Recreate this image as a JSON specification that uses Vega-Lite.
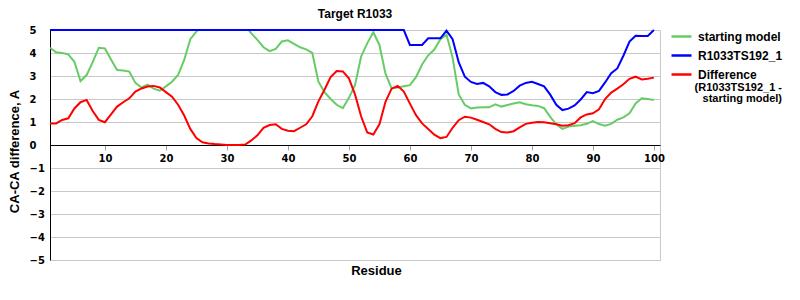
{
  "$schema": "https://vega.github.io/schema/vega-lite/v6.json",
  "width": 610,
  "height": 230,
  "autosize": {"type": "none"},
  "padding": {"left": 50, "top": 30, "right": 140, "bottom": 40},
  "background": "white",
  "title": {"text": "Target R1033", "font": "Liberation Sans", "fontSize": 12, "fontWeight": "bold", "color": "black", "offset": 4, "anchor": "middle"},
  "config": {"view": {"stroke": "#c8c8c8", "strokeWidth": 1}},
  "data": {"values": [
    {"residue":1,"starting model":4.23,"R1033TS192_1":5,"Difference":0.94},
    {"residue":2,"starting model":4.03,"R1033TS192_1":5,"Difference":0.94},
    {"residue":3,"starting model":4.0,"R1033TS192_1":5,"Difference":1.09},
    {"residue":4,"starting model":3.94,"R1033TS192_1":5,"Difference":1.16},
    {"residue":5,"starting model":3.62,"R1033TS192_1":5,"Difference":1.59},
    {"residue":6,"starting model":2.78,"R1033TS192_1":5,"Difference":1.86},
    {"residue":7,"starting model":3.04,"R1033TS192_1":5,"Difference":1.96},
    {"residue":8,"starting model":3.6,"R1033TS192_1":5,"Difference":1.48},
    {"residue":9,"starting model":4.23,"R1033TS192_1":5,"Difference":1.09},
    {"residue":10,"starting model":4.2,"R1033TS192_1":5,"Difference":0.99},
    {"residue":11,"starting model":3.72,"R1033TS192_1":5,"Difference":1.33},
    {"residue":12,"starting model":3.26,"R1033TS192_1":5,"Difference":1.67},
    {"residue":13,"starting model":3.24,"R1033TS192_1":5,"Difference":1.86},
    {"residue":14,"starting model":3.19,"R1033TS192_1":5,"Difference":2.03},
    {"residue":15,"starting model":2.7,"R1033TS192_1":5,"Difference":2.32},
    {"residue":16,"starting model":2.5,"R1033TS192_1":5,"Difference":2.46},
    {"residue":17,"starting model":2.62,"R1033TS192_1":5,"Difference":2.54},
    {"residue":18,"starting model":2.45,"R1033TS192_1":5,"Difference":2.57},
    {"residue":19,"starting model":2.36,"R1033TS192_1":5,"Difference":2.5},
    {"residue":20,"starting model":2.55,"R1033TS192_1":5,"Difference":2.3},
    {"residue":21,"starting model":2.75,"R1033TS192_1":5,"Difference":2.1},
    {"residue":22,"starting model":3.05,"R1033TS192_1":5,"Difference":1.75},
    {"residue":23,"starting model":3.7,"R1033TS192_1":5,"Difference":1.28},
    {"residue":24,"starting model":4.6,"R1033TS192_1":5,"Difference":0.7},
    {"residue":25,"starting model":4.93,"R1033TS192_1":5,"Difference":0.3},
    {"residue":26,"starting model":5.2,"R1033TS192_1":5,"Difference":0.12},
    {"residue":27,"starting model":5.5,"R1033TS192_1":5,"Difference":0.07},
    {"residue":28,"starting model":5.5,"R1033TS192_1":5,"Difference":0.04},
    {"residue":29,"starting model":5.5,"R1033TS192_1":5,"Difference":0.02},
    {"residue":30,"starting model":5.5,"R1033TS192_1":5,"Difference":0},
    {"residue":31,"starting model":5.5,"R1033TS192_1":5,"Difference":0},
    {"residue":32,"starting model":5.5,"R1033TS192_1":5,"Difference":0},
    {"residue":33,"starting model":5.2,"R1033TS192_1":5,"Difference":0.02},
    {"residue":34,"starting model":4.85,"R1033TS192_1":5,"Difference":0.2},
    {"residue":35,"starting model":4.57,"R1033TS192_1":5,"Difference":0.42},
    {"residue":36,"starting model":4.25,"R1033TS192_1":5,"Difference":0.75},
    {"residue":37,"starting model":4.08,"R1033TS192_1":5,"Difference":0.87},
    {"residue":38,"starting model":4.18,"R1033TS192_1":5,"Difference":0.9},
    {"residue":39,"starting model":4.5,"R1033TS192_1":5,"Difference":0.7},
    {"residue":40,"starting model":4.55,"R1033TS192_1":5,"Difference":0.62},
    {"residue":41,"starting model":4.4,"R1033TS192_1":5,"Difference":0.6},
    {"residue":42,"starting model":4.25,"R1033TS192_1":5,"Difference":0.75},
    {"residue":43,"starting model":4.16,"R1033TS192_1":5,"Difference":0.9},
    {"residue":44,"starting model":4.0,"R1033TS192_1":5,"Difference":1.25},
    {"residue":45,"starting model":2.75,"R1033TS192_1":5,"Difference":1.9},
    {"residue":46,"starting model":2.3,"R1033TS192_1":5,"Difference":2.4},
    {"residue":47,"starting model":2.0,"R1033TS192_1":5,"Difference":2.95},
    {"residue":48,"starting model":1.75,"R1033TS192_1":5,"Difference":3.22},
    {"residue":49,"starting model":1.6,"R1033TS192_1":5,"Difference":3.2},
    {"residue":50,"starting model":2.05,"R1033TS192_1":5,"Difference":2.9},
    {"residue":51,"starting model":2.6,"R1033TS192_1":5,"Difference":2.2},
    {"residue":52,"starting model":3.85,"R1033TS192_1":5,"Difference":1.25},
    {"residue":53,"starting model":4.42,"R1033TS192_1":5,"Difference":0.55},
    {"residue":54,"starting model":4.9,"R1033TS192_1":5,"Difference":0.46},
    {"residue":55,"starting model":4.35,"R1033TS192_1":5,"Difference":0.9},
    {"residue":56,"starting model":3.1,"R1033TS192_1":5,"Difference":1.88},
    {"residue":57,"starting model":2.46,"R1033TS192_1":5,"Difference":2.45},
    {"residue":58,"starting model":2.5,"R1033TS192_1":5,"Difference":2.57},
    {"residue":59,"starting model":2.55,"R1033TS192_1":5,"Difference":2.32},
    {"residue":60,"starting model":2.6,"R1033TS192_1":4.35,"Difference":1.8},
    {"residue":61,"starting model":2.95,"R1033TS192_1":4.35,"Difference":1.3},
    {"residue":62,"starting model":3.5,"R1033TS192_1":4.35,"Difference":0.94},
    {"residue":63,"starting model":3.9,"R1033TS192_1":4.64,"Difference":0.7},
    {"residue":64,"starting model":4.15,"R1033TS192_1":4.64,"Difference":0.45},
    {"residue":65,"starting model":4.6,"R1033TS192_1":4.64,"Difference":0.3},
    {"residue":66,"starting model":4.8,"R1033TS192_1":4.97,"Difference":0.35},
    {"residue":67,"starting model":3.8,"R1033TS192_1":4.6,"Difference":0.75},
    {"residue":68,"starting model":2.2,"R1033TS192_1":3.6,"Difference":1.08},
    {"residue":69,"starting model":1.75,"R1033TS192_1":2.97,"Difference":1.23},
    {"residue":70,"starting model":1.59,"R1033TS192_1":2.74,"Difference":1.19},
    {"residue":71,"starting model":1.63,"R1033TS192_1":2.65,"Difference":1.1},
    {"residue":72,"starting model":1.64,"R1033TS192_1":2.7,"Difference":1.0},
    {"residue":73,"starting model":1.64,"R1033TS192_1":2.55,"Difference":0.9},
    {"residue":74,"starting model":1.77,"R1033TS192_1":2.3,"Difference":0.7},
    {"residue":75,"starting model":1.67,"R1033TS192_1":2.18,"Difference":0.56},
    {"residue":76,"starting model":1.74,"R1033TS192_1":2.2,"Difference":0.54},
    {"residue":77,"starting model":1.8,"R1033TS192_1":2.35,"Difference":0.6},
    {"residue":78,"starting model":1.86,"R1033TS192_1":2.58,"Difference":0.77},
    {"residue":79,"starting model":1.77,"R1033TS192_1":2.7,"Difference":0.92},
    {"residue":80,"starting model":1.73,"R1033TS192_1":2.75,"Difference":0.97},
    {"residue":81,"starting model":1.7,"R1033TS192_1":2.65,"Difference":1.0},
    {"residue":82,"starting model":1.6,"R1033TS192_1":2.55,"Difference":0.99},
    {"residue":83,"starting model":1.22,"R1033TS192_1":2.19,"Difference":0.95},
    {"residue":84,"starting model":0.9,"R1033TS192_1":1.75,"Difference":0.9},
    {"residue":85,"starting model":0.7,"R1033TS192_1":1.52,"Difference":0.84},
    {"residue":86,"starting model":0.8,"R1033TS192_1":1.58,"Difference":0.86},
    {"residue":87,"starting model":0.84,"R1033TS192_1":1.72,"Difference":0.95},
    {"residue":88,"starting model":0.86,"R1033TS192_1":1.98,"Difference":1.2},
    {"residue":89,"starting model":0.92,"R1033TS192_1":2.3,"Difference":1.33},
    {"residue":90,"starting model":1.04,"R1033TS192_1":2.25,"Difference":1.38},
    {"residue":91,"starting model":0.91,"R1033TS192_1":2.35,"Difference":1.55},
    {"residue":92,"starting model":0.84,"R1033TS192_1":2.72,"Difference":2.0},
    {"residue":93,"starting model":0.92,"R1033TS192_1":3.12,"Difference":2.28},
    {"residue":94,"starting model":1.1,"R1033TS192_1":3.33,"Difference":2.45},
    {"residue":95,"starting model":1.2,"R1033TS192_1":3.88,"Difference":2.64},
    {"residue":96,"starting model":1.38,"R1033TS192_1":4.5,"Difference":2.88},
    {"residue":97,"starting model":1.81,"R1033TS192_1":4.75,"Difference":2.97},
    {"residue":98,"starting model":2.03,"R1033TS192_1":4.74,"Difference":2.85},
    {"residue":99,"starting model":2.0,"R1033TS192_1":4.74,"Difference":2.88},
    {"residue":100,"starting model":1.96,"R1033TS192_1":5.0,"Difference":2.93}
  ]},
  "transform": [{"fold": ["starting model", "R1033TS192_1", "Difference"], "as": ["series", "value"]}],
  "encoding": {
    "x": {
      "field": "residue", "type": "quantitative",
      "scale": {"domain": [1, 101], "nice": false, "zero": false},
      "axis": {
        "values": [10, 20, 30, 40, 50, 60, 70, 80, 90, 100],
        "offset": -115, "grid": false,
        "domainColor": "black", "domainWidth": 1,
        "tickColor": "#a0a0a0", "tickSize": 5, "labelPadding": 3,
        "labelFont": "DejaVu Sans", "labelFontSize": 10, "labelFontWeight": "bold", "labelColor": "black",
        "labelFlush": false,
        "title": "Residue", "titleFont": "Liberation Sans", "titleFontSize": 13, "titleFontWeight": "bold", "titleColor": "black",
        "titleX": 326, "titleY": 119, "titleBaseline": "top"
      }
    },
    "y": {
      "field": "value", "type": "quantitative",
      "scale": {"domain": [-5, 5], "nice": false},
      "axis": {
        "values": [-5, -4, -3, -2, -1, 0, 1, 2, 3, 4, 5],
        "format": "d",
        "grid": true, "gridColor": "#c8c8c8", "gridWidth": 1,
        "domainColor": "black", "domainWidth": 1,
        "ticks": false, "labelAlign": "left", "labelPadding": 21,
        "labelFont": "DejaVu Sans", "labelFontSize": 10, "labelFontWeight": "bold", "labelColor": "black",
        "labelFlush": false,
        "title": "CA-CA difference, A", "titleFont": "Liberation Sans", "titleFontSize": 13, "titleFontWeight": "bold", "titleColor": "black",
        "titlePadding": 8, "titleY": 121
      }
    },
    "color": {
      "field": "series", "type": "nominal",
      "scale": {"domain": ["starting model", "R1033TS192_1", "Difference"], "range": ["#66cc66", "#0000ff", "#ff0000"]},
      "legend": {
        "orient": "none", "legendX": 620, "legendY": -5, "padding": 0,
        "symbolType": "stroke", "symbolSize": 400, "symbolStrokeWidth": 2.5,
        "labelFont": "Liberation Sans", "labelFontSize": 12, "labelFontWeight": "bold", "labelColor": "black",
        "labelOffset": 5, "rowPadding": 1,
        "title": ["(R1033TS192_1 -", "starting model)"],
        "titleOrient": "bottom", "titleAnchor": "end", "titleAlign": "right",
        "titleFont": "Liberation Sans", "titleFontSize": 11, "titleFontWeight": "bold", "titleColor": "black",
        "titleLineHeight": 11, "titlePadding": 1, "titleLimit": 200
      }
    }
  },
  "layer": [
    {"transform": [{"filter": "datum.series == 'starting model'"}], "mark": {"type": "line", "strokeWidth": 2, "clip": true}},
    {"transform": [{"filter": "datum.series == 'R1033TS192_1'"}], "mark": {"type": "line", "strokeWidth": 2, "clip": false}},
    {"transform": [{"filter": "datum.series == 'Difference'"}], "mark": {"type": "line", "strokeWidth": 2, "clip": true}}
  ]
}
